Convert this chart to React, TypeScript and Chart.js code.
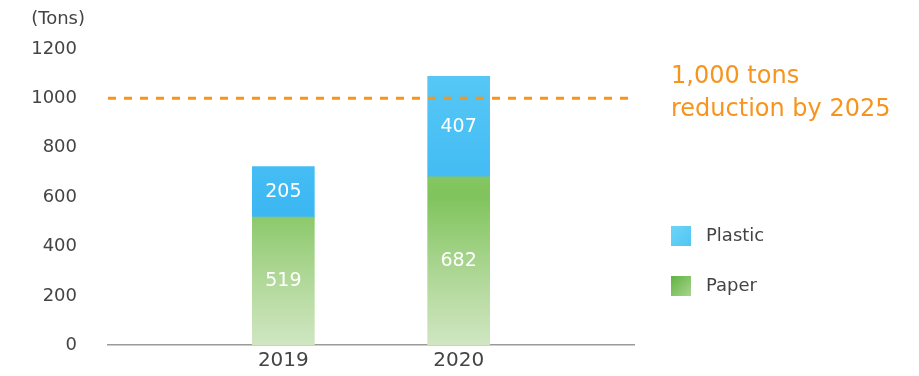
import React, { useEffect, useRef } from "react";
import { Chart, registerables } from "chart.js";

Chart.register(...registerables);

const categories = ["", "2019", "2020", ""];
const paperValues = [null, 519, 682, null];
const plasticValues = [null, 205, 407, null];
const targetValues = [1000, 1000, 1000, 1000];
const yTicks = [0, 200, 400, 600, 800, 1000, 1200];
const unitLabel = "(Tons)";
const targetText = ["1,000 tons", "reduction by 2025"];
const legendItems = ["Plastic", "Paper"];

const FONT = "'DejaVu Sans', sans-serif";

function barGradient(ctx: any, kind: "paper" | "plastic") {
  const chart = ctx.chart;
  const area = chart.chartArea;
  if (!area) return kind === "paper" ? "#9ccf7a" : "#3db8f2";
  const el = ctx.element;
  let top = area.top;
  let bottom = area.bottom;
  if (el && typeof el.y === "number" && typeof el.base === "number") {
    top = Math.min(el.y, el.base);
    bottom = Math.max(el.y, el.base);
  }
  if (!isFinite(top) || !isFinite(bottom) || bottom - top < 1) {
    return kind === "paper" ? "#9ccf7a" : "#3db8f2";
  }
  const g = chart.ctx.createLinearGradient(0, top, 0, bottom);
  if (kind === "paper") {
    g.addColorStop(0, "#a9d68c");
    g.addColorStop(0.25, "#90cc6d");
    g.addColorStop(0.5, "#80c45d");
    g.addColorStop(0.75, "#acd693");
    g.addColorStop(1, "#d0e6c2");
  } else {
    g.addColorStop(0, "#5ccbf6");
    g.addColorStop(0.5, "#3fb9f3");
    g.addColorStop(1, "#2aa8ee");
  }
  return g;
}

const overlayPlugin = {
  id: "overlay",
  afterDatasetsDraw(chart: any) {
    const { ctx } = chart;
    ctx.save();
    ctx.fillStyle = "#ffffff";
    ctx.font = `19px ${FONT}`;
    ctx.textAlign = "center";
    ctx.textBaseline = "middle";
    [0, 1].forEach((di) => {
      const meta = chart.getDatasetMeta(di);
      const data = chart.data.datasets[di].data;
      meta.data.forEach((el: any, i: number) => {
        const v = data[i];
        if (v === null || v === undefined) return;
        const y = (el.y + el.base) / 2;
        ctx.fillText(String(v), el.x, y);
      });
    });
    ctx.restore();
  },
  afterDraw(chart: any) {
    const { ctx } = chart;
    ctx.save();
    ctx.fillStyle = "#444444";
    ctx.font = `18px ${FONT}`;
    ctx.textAlign = "right";
    ctx.textBaseline = "middle";
    ctx.fillText(unitLabel, 77, 11);
    ctx.fillStyle = "#f7941d";
    ctx.font = `24px ${FONT}`;
    ctx.textAlign = "left";
    ctx.fillText(targetText[0], 663, 69);
    ctx.fillText(targetText[1], 663, 102);
    const colors = [
      ["#6fd3f7", "#4fc6f4"],
      ["#5fb342", "#a9d48e"],
    ];
    legendItems.forEach((label, i) => {
      const y = 228 + i * 50;
      const g = ctx.createLinearGradient(663, y - 10, 683, y + 10);
      g.addColorStop(0, colors[i][0]);
      g.addColorStop(1, colors[i][1]);
      ctx.fillStyle = g;
      ctx.fillRect(663, y - 10, 20, 20);
      ctx.fillStyle = "#444444";
      ctx.font = `18px ${FONT}`;
      ctx.textAlign = "left";
      ctx.fillText(label, 698, y);
    });
    ctx.restore();
  },
};

export default function App() {
  const ref = useRef<HTMLCanvasElement | null>(null);
  useEffect(() => {
    if (!ref.current) return;
    const chart = new Chart(ref.current, {
      type: "bar",
      data: {
        labels: categories,
        datasets: [
          {
            label: "Paper",
            data: paperValues,
            backgroundColor: (c: any) => barGradient(c, "paper"),
            barThickness: 62,
            stack: "s",
            order: 2,
          } as any,
          {
            label: "Plastic",
            data: plasticValues,
            backgroundColor: (c: any) => barGradient(c, "plastic"),
            barThickness: 62,
            stack: "s",
            order: 2,
          } as any,
          {
            type: "line",
            label: "target",
            data: targetValues,
            borderColor: "#f7941d",
            borderWidth: 3,
            borderDash: [8, 8],
            pointRadius: 0,
            fill: false,
            order: 0,
            stack: "t",
          } as any,
        ],
      },
      options: {
        animation: false,
        responsive: false,
        maintainAspectRatio: false,
        layout: { padding: { top: 41, right: 278, left: 0, bottom: 0 } },
        plugins: {
          legend: { display: false },
          tooltip: { enabled: false },
        },
        scales: {
          x: {
            stacked: true,
            offset: false,
            grid: { display: false },
            border: { display: true, color: "#9a9a9a", width: 1.5 },
            ticks: {
              color: "#444444",
              font: { family: FONT, size: 20 },
              padding: -4,
              maxRotation: 0,
              autoSkip: false,
            },
          },
          y: {
            stacked: true,
            min: 0,
            max: 1200,
            grid: { display: false },
            border: { display: false },
            afterFit: (s: any) => {
              s.width = 100;
            },
            afterBuildTicks: (s: any) => {
              s.ticks = yTicks.map((v) => ({ value: v }));
            },
            ticks: {
              color: "#444444",
              font: { family: FONT, size: 18 },
              padding: 23,
              callback: (v: any) => String(v),
            },
          },
        },
      },
      plugins: [overlayPlugin],
    });
    return () => chart.destroy();
  }, []);
  return <canvas ref={ref} width={904} height={371} style={{ display: "block" }} />;
}
